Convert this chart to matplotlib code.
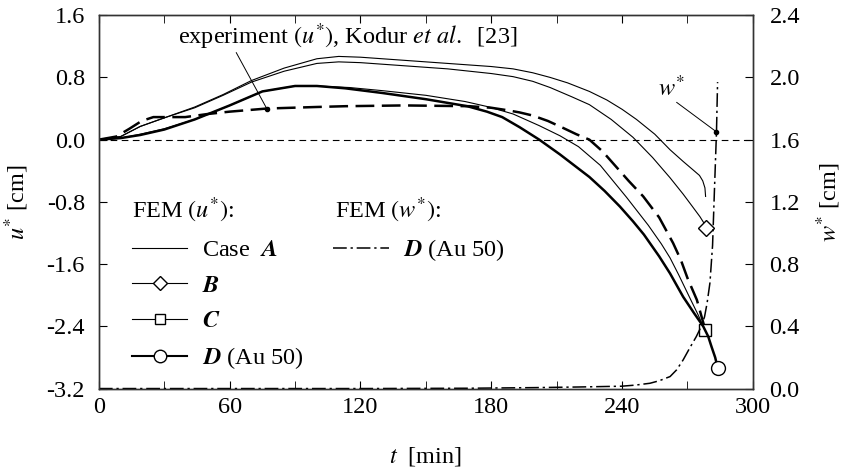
import matplotlib
matplotlib.use("Agg")
import matplotlib.pyplot as plt
from matplotlib.lines import Line2D
from matplotlib.ticker import MultipleLocator, FormatStrFormatter

plt.rcParams['font.family'] = ['Liberation Serif', 'DejaVu Serif']
plt.rcParams['mathtext.fontset'] = 'stix'
plt.rcParams['axes.unicode_minus'] = False

# FEM u* curves  (t [min], u* [cm])
t_A = [0, 10, 19, 30, 44, 57, 70, 85, 100, 110, 120, 140, 160, 180, 190, 199, 207, 215, 225,
       233, 240, 246.6, 255, 262, 268, 272.6, 275.5, 277, 278, 278.3]
u_A = [0, 0.04, 0.17, 0.28, 0.42, 0.58, 0.76, 0.92, 1.04, 1.07, 1.06, 1.02, 0.98, 0.94, 0.91,
       0.86, 0.80, 0.73, 0.62, 0.51, 0.39, 0.26, 0.07, -0.13, -0.28, -0.39, -0.46, -0.53,
       -0.62, -0.73]

t_B = [0, 10, 19, 30, 44, 57, 70, 85, 100, 110, 120, 140, 160, 180, 190, 199, 207, 217, 225,
       235, 245, 254, 262, 268, 272, 275.7, 277.5, 278.7]
u_B = [0, 0.04, 0.17, 0.28, 0.41, 0.57, 0.74, 0.88, 0.98, 1.00, 0.99, 0.95, 0.91, 0.85, 0.81,
       0.75, 0.67, 0.55, 0.45, 0.26, 0.03, -0.23, -0.49, -0.70, -0.85, -0.99, -1.07, -1.14]

t_C = [0, 10, 19, 30, 44, 60, 75, 90, 100, 115, 130, 150, 168, 179, 190, 202, 211.5, 220,
       230, 242, 252, 258, 262, 266, 271, 275, 278]
u_C = [0, 0.02, 0.07, 0.14, 0.26, 0.44, 0.62, 0.69, 0.69, 0.67, 0.63, 0.57, 0.49, 0.42, 0.33,
       0.18, 0.05, -0.09, -0.33, -0.74, -1.10, -1.34, -1.52, -1.74, -2.03, -2.26, -2.45]

t_D = [0, 10, 19, 30, 44, 60, 75, 90, 100, 113, 130, 150, 169, 178, 185, 193, 202, 211.5,
       225, 232, 239, 245, 250, 257, 262, 268, 273, 277.2, 279.5, 281, 282.7, 283.8]
u_D = [0, 0.02, 0.06, 0.13, 0.26, 0.44, 0.62, 0.69, 0.69, 0.66, 0.60, 0.52, 0.43, 0.36, 0.29,
       0.16, 0.0, -0.19, -0.48, -0.66, -0.86, -1.05, -1.22, -1.50, -1.72, -2.02, -2.23, -2.40,
       -2.53, -2.66, -2.80, -2.93]

# experiment, Kodur et al. [23]
t_exp = [0, 8, 14, 19.6, 25, 32, 39.6, 50, 60, 77, 100, 113, 140, 170, 180, 187, 193, 199,
         206, 213, 219, 225, 231, 237, 243, 249.7, 257, 263.4, 267, 270, 274.3, 277.5]
u_exp = [0, 0.04, 0.14, 0.24, 0.29, 0.29, 0.29, 0.33, 0.36, 0.40, 0.42, 0.43, 0.44, 0.43,
         0.41, 0.38, 0.35, 0.31, 0.24, 0.15, 0.07, 0.0, -0.15, -0.34, -0.53, -0.73, -1.0,
         -1.33, -1.55, -1.78, -2.06, -2.38]

# FEM w* curve, case D (Au 50)
t_w = [0, 60, 120, 170, 200, 220, 239.7, 246, 252.8, 257, 262, 265, 268, 271, 274, 276,
       277.8, 279, 280.3, 281.5, 282.3, 283.3, 283.8]
w_D = [0, 0, 0, 0.002, 0.006, 0.01, 0.015, 0.022, 0.034, 0.05, 0.077, 0.12, 0.184, 0.26,
       0.333, 0.39, 0.46, 0.55, 0.68, 0.92, 1.25, 1.65, 1.97]

fs = 17.5
fig = plt.figure(figsize=(8.45, 4.75), dpi=100)
ax = fig.add_axes([0.117, 0.182, 0.774, 0.786])
ax2 = ax.twinx()

ax.axhline(0, color='k', lw=0.8, dashes=(6, 4))

ax.plot(t_A, u_A, color='k', lw=0.8)
ax.plot(t_B, u_B, color='k', lw=0.8, marker='D', ms=8, mfc='white', mec='k', mew=1.0,
        markevery=[-1])
ax.plot(t_C, u_C, color='k', lw=0.8, marker='s', ms=8, mfc='white', mec='k', mew=1.0,
        markevery=[-1])
ax.plot(t_D, u_D, color='k', lw=1.8, marker='o', ms=10, mfc='white', mec='k', mew=1.0,
        markevery=[-1])
ax.plot(t_exp, u_exp, color='k', lw=1.8, dashes=(7.5, 3))
ax.plot(t_exp, u_exp, ls='none', marker='o', ms=3, color='k', markevery=[t_exp.index(77)])

ax2.plot(t_w, w_D, color='k', lw=1.1, dashes=(9, 2.5, 1.5, 2.5))
ax2.plot(t_w, w_D, ls='none', marker='o', ms=3, color='k', markevery=[t_w.index(283.3)])

# annotations
ax.text(114, 1.33, r'experiment $(u^{*})$, Kodur $\mathit{et\ al.}$  [23]', fontsize=fs,
        ha='center', va='center')
ax.annotate('', xy=(77, 0.40), xytext=(63, 1.12),
            arrowprops=dict(arrowstyle='-', lw=0.7, color='k', shrinkA=0, shrinkB=0))
ax2.text(262.7, 1.93, r'$w^{*}$', fontsize=fs, ha='center', va='center')
ax2.annotate('', xy=(283.3, 1.65), xytext=(265, 1.84),
             arrowprops=dict(arrowstyle='-', lw=0.7, color='k', shrinkA=0, shrinkB=0))

ax.set_xlim(0, 300)
ax.set_ylim(-3.2, 1.6)
ax2.set_ylim(0, 2.4)

ax.xaxis.set_major_locator(MultipleLocator(60))
ax.xaxis.set_minor_locator(MultipleLocator(30))
ax.yaxis.set_major_locator(MultipleLocator(0.8))
ax.yaxis.set_major_formatter(FormatStrFormatter('%.1f'))
ax2.yaxis.set_major_locator(MultipleLocator(0.4))
ax2.yaxis.set_major_formatter(FormatStrFormatter('%.1f'))

ax.tick_params(which='both', direction='in', top=True, right=False, labelsize=fs, length=6)
ax.tick_params(axis='y', pad=10)
ax.tick_params(axis='x', pad=6)
ax2.tick_params(direction='in', length=6, labelsize=fs, pad=12)

for sp in list(ax.spines.values()) + list(ax2.spines.values()):
    sp.set_linewidth(1.0)
    sp.set_color('#333333')

ax.set_xlabel(r'$t$  [min]', fontsize=fs)
ax.set_ylabel(r'$u^{*}$ [cm]', fontsize=fs)
ax2.set_ylabel(r'$w^{*}$ [cm]', fontsize=fs)
ax.xaxis.set_label_coords(0.5, -0.15)
ax.yaxis.set_label_coords(-0.103, 0.5)
ax2.yaxis.set_label_coords(1.094, 0.5)

# legend
h_A = Line2D([], [], color='k', lw=0.8)
h_B = Line2D([], [], color='k', lw=0.8, marker='D', ms=7, mfc='white', mec='k')
h_C = Line2D([], [], color='k', lw=0.8, marker='s', ms=7, mfc='white', mec='k')
h_D = Line2D([], [], color='k', lw=1.5, marker='o', ms=9, mfc='white', mec='k')
h_w = Line2D([], [], color='k', lw=1.1, dashes=(9, 2.5, 1.5, 2.5))
blank = Line2D([], [], color='none')
handles = [h_A, h_B, h_C, h_D, h_w, blank, blank, blank]
labels = [r'Case  $\mathbfit{A}$', r'$\mathbfit{B}$', r'$\mathbfit{C}$',
          r'$\mathbfit{D}$ (Au 50)', r'$\mathbfit{D}$ (Au 50)', '', '', '']
ax.legend(handles, labels, ncol=2, loc='upper left', bbox_to_anchor=(0.05, 0.405),
          frameon=False, fontsize=fs, handlelength=2.3, handletextpad=0.6,
          columnspacing=1.2, labelspacing=0.55, borderpad=0, borderaxespad=0)
ax.text(0.05, 0.476, r'FEM $(u^{*})$:', transform=ax.transAxes, fontsize=fs, va='center')
ax.text(0.361, 0.476, r'FEM $(w^{*})$:', transform=ax.transAxes, fontsize=fs, va='center')

fig.savefig('out.png', dpi=100)
